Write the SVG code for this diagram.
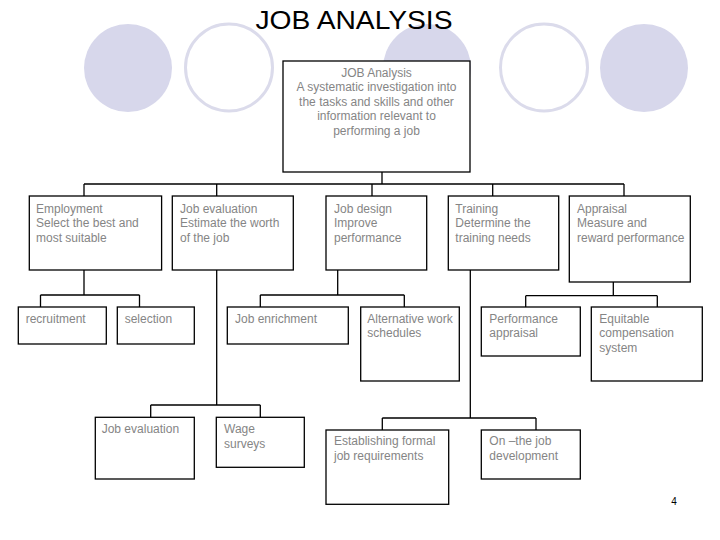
<svg xmlns="http://www.w3.org/2000/svg" width="720" height="540" viewBox="0 0 720 540">
<style>
.dot{fill:#d7d7eb}
.ring{fill:none;stroke:#dbdbeb;stroke-width:3}
.box{fill:#ffffff;stroke:#000000;stroke-width:1.3}
.lbl{font-family:"Liberation Sans",Arial,sans-serif;font-size:12px;fill:#858585}
.c{text-anchor:middle}
.title{font-family:"Liberation Sans",Arial,sans-serif;font-size:26px;fill:#000000;text-anchor:middle}
.con{fill:none;stroke:#000000;stroke-width:1.3}
</style>
<rect width="720" height="540" fill="#ffffff"/>
<g id="decor">
<circle class="dot" cx="128" cy="68" r="44"/>
<circle class="ring" cx="229" cy="67.5" r="43.5"/>
<circle class="dot" cx="427" cy="68" r="44"/>
<circle class="ring" cx="544" cy="67.5" r="43.5"/>
<circle class="dot" cx="644" cy="68" r="44"/>
</g>
<text class="title" x="354" y="29" textLength="197" lengthAdjust="spacingAndGlyphs">JOB ANALYSIS</text>
<g id="connectors">
<path class="con" d="M382,172V184M84,184H624M84,184V196M216.7,184V196M372,184V196M492.7,184V196M624,184V196"/>
<path class="con" d="M84,270V295M40.5,295H139.5M40.5,295V307M139.5,295V307"/>
<path class="con" d="M216.7,270V405M150.7,405H260.3M150.7,405V417M260.3,405V417"/>
<path class="con" d="M337.7,270V295M260.3,295H404.3M260.3,295V307M404.3,295V307"/>
<path class="con" d="M470.3,270V418M382.3,418H536M382.3,418V430M536,418V430"/>
<path class="con" d="M613.3,282V295.7M525.7,295.7H657.3M525.7,295.7V307M657.3,295.7V307"/>
</g>
<g id="job-analysis">
<rect class="box" x="283" y="61" width="187" height="111"/>
<text class="lbl c" x="376.5" y="77">JOB Analysis</text>
<text class="lbl c" x="376.5" y="91.4">A systematic investigation into</text>
<text class="lbl c" x="376.5" y="105.8">the tasks and skills and other</text>
<text class="lbl c" x="376.5" y="120.2">information relevant to</text>
<text class="lbl c" x="376.5" y="134.6">performing a job</text>
</g>
<g id="employment">
<rect class="box" x="29.3" y="196" width="132.3" height="74"/>
<text class="lbl" x="36" y="212.5">Employment</text>
<text class="lbl" x="36" y="227">Select the best and</text>
<text class="lbl" x="36" y="241.5">most suitable</text>
</g>
<g id="job-evaluation">
<rect class="box" x="172.3" y="196" width="121" height="74"/>
<text class="lbl" x="180" y="212.5">Job evaluation</text>
<text class="lbl" x="180" y="227">Estimate the worth</text>
<text class="lbl" x="180" y="241.5">of the job</text>
</g>
<g id="job-design">
<rect class="box" x="326" y="196" width="100.7" height="74"/>
<text class="lbl" x="334" y="212.5">Job design</text>
<text class="lbl" x="334" y="227">Improve</text>
<text class="lbl" x="334" y="241.5">performance</text>
</g>
<g id="training">
<rect class="box" x="448.3" y="196" width="110.4" height="74"/>
<text class="lbl" x="455.3" y="212.5">Training</text>
<text class="lbl" x="455.3" y="227">Determine the</text>
<text class="lbl" x="455.3" y="241.5">training needs</text>
</g>
<g id="appraisal">
<rect class="box" x="569.3" y="196" width="121" height="86"/>
<text class="lbl" x="577" y="212.5">Appraisal</text>
<text class="lbl" x="577" y="227">Measure and</text>
<text class="lbl" x="577" y="241.5">reward performance</text>
</g>
<g id="recruitment">
<rect class="box" x="18.3" y="307" width="88" height="37"/>
<text class="lbl" x="25.7" y="322.7">recruitment</text>
</g>
<g id="selection">
<rect class="box" x="117.3" y="307" width="77" height="37"/>
<text class="lbl" x="124.7" y="322.7">selection</text>
</g>
<g id="job-enrichment">
<rect class="box" x="227.3" y="307" width="121" height="37"/>
<text class="lbl" x="235" y="322.7">Job enrichment</text>
</g>
<g id="alternative-work">
<rect class="box" x="360.7" y="307" width="98.6" height="74"/>
<text class="lbl" x="367.3" y="322.7">Alternative work</text>
<text class="lbl" x="367.3" y="337.2">schedules</text>
</g>
<g id="performance-appraisal">
<rect class="box" x="481.3" y="307" width="99" height="49"/>
<text class="lbl" x="489.3" y="322.7">Performance</text>
<text class="lbl" x="489.3" y="337.2">appraisal</text>
</g>
<g id="equitable-compensation">
<rect class="box" x="591.3" y="307" width="111" height="74"/>
<text class="lbl" x="599.3" y="322.7">Equitable</text>
<text class="lbl" x="599.3" y="337.2">compensation</text>
<text class="lbl" x="599.3" y="351.7">system</text>
</g>
<g id="job-evaluation-2">
<rect class="box" x="95.3" y="417.3" width="99" height="61.7"/>
<text class="lbl" x="101.7" y="433">Job evaluation</text>
</g>
<g id="wage-surveys">
<rect class="box" x="216.3" y="417.3" width="88" height="50"/>
<text class="lbl" x="224" y="433">Wage</text>
<text class="lbl" x="224" y="447.5">surveys</text>
</g>
<g id="establishing-requirements">
<rect class="box" x="326" y="430" width="122.7" height="74.3"/>
<text class="lbl" x="334" y="445">Establishing formal</text>
<text class="lbl" x="334" y="459.5">job requirements</text>
</g>
<g id="on-the-job">
<rect class="box" x="481.3" y="430" width="99" height="49"/>
<text class="lbl" x="489.3" y="445">On –the job</text>
<text class="lbl" x="489.3" y="459.5">development</text>
</g>
<text x="674" y="505" font-family="'Liberation Sans',Arial,sans-serif" font-size="10" fill="#000000" text-anchor="middle">4</text>
</svg>
